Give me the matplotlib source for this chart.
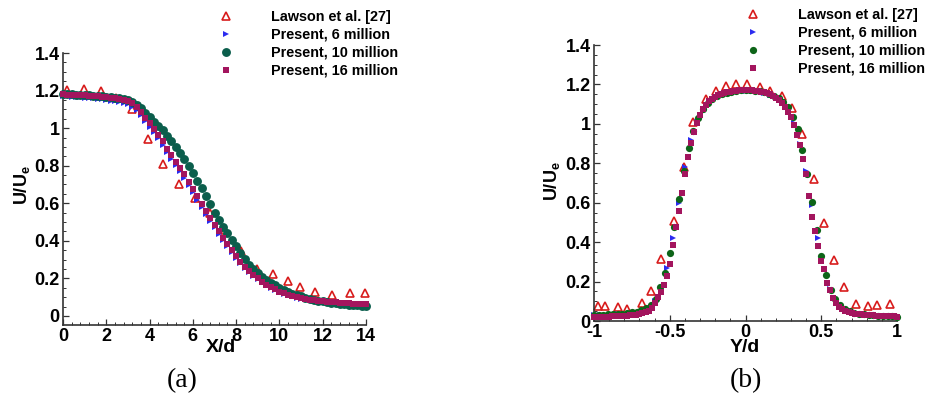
import numpy as np
import matplotlib
matplotlib.use("Agg")
import matplotlib.pyplot as plt
from matplotlib.ticker import MultipleLocator, FixedLocator, FixedFormatter

plt.rcParams['font.family'] = ['Liberation Sans', 'DejaVu Sans']
plt.rcParams['font.weight'] = 'bold'
plt.rcParams['mathtext.fontset'] = 'custom'
plt.rcParams['mathtext.rm'] = 'Liberation Sans:bold'
plt.rcParams['mathtext.it'] = 'Liberation Sans:bold'
plt.rcParams['mathtext.bf'] = 'Liberation Sans:bold'

# ---------------- data: panel (a), centreline U/Ue vs X/d ----------------
a_lawson_x = [0.17, 0.97, 1.74, 2.45, 3.17, 3.94, 4.64, 5.36, 6.10, 6.80, 7.50, 8.22,
              8.98, 9.69, 10.41, 10.95, 11.65, 12.44, 13.25, 13.94]
a_lawson_y = [1.203, 1.206, 1.200, 1.160, 1.100, 0.940, 0.810, 0.700, 0.630, 0.550, 0.460, 0.345,
              0.248, 0.222, 0.186, 0.156, 0.126, 0.113, 0.121, 0.124]

a_sim_x = np.round(np.arange(0, 71) * 0.2, 2)
a_6m_y = [1.172, 1.170, 1.168, 1.166, 1.164, 1.162, 1.160, 1.158, 1.156, 1.153,
          1.150, 1.147, 1.144, 1.140, 1.135, 1.128, 1.115, 1.095, 1.068, 1.038,
          1.008, 0.978, 0.946, 0.910, 0.872, 0.836, 0.802, 0.770, 0.735, 0.697,
          0.658, 0.620, 0.582, 0.545, 0.507, 0.472, 0.438, 0.404, 0.372, 0.340,
          0.310, 0.283, 0.258, 0.235, 0.215, 0.196, 0.180, 0.165, 0.151, 0.139,
          0.128, 0.119, 0.111, 0.104, 0.098, 0.093, 0.089, 0.085, 0.082, 0.079,
          0.076, 0.074, 0.072, 0.070, 0.068, 0.066, 0.065, 0.064, 0.063, 0.062,
          0.061]
a_10m_y = [1.182, 1.181, 1.180, 1.179, 1.178, 1.177, 1.175, 1.173, 1.171, 1.169,
           1.167, 1.164, 1.161, 1.158, 1.154, 1.148, 1.140, 1.125, 1.105, 1.082,
           1.058, 1.035, 1.012, 0.988, 0.960, 0.930, 0.900, 0.868, 0.835, 0.800,
           0.762, 0.720, 0.680, 0.640, 0.598, 0.550, 0.510, 0.475, 0.440, 0.405,
           0.370, 0.336, 0.303, 0.274, 0.250, 0.228, 0.209, 0.192, 0.177, 0.163,
           0.150, 0.138, 0.128, 0.119, 0.111, 0.104, 0.098, 0.092, 0.087, 0.082,
           0.078, 0.074, 0.071, 0.068, 0.065, 0.062, 0.060, 0.058, 0.056, 0.054,
           0.052]
a_16m_y = [1.180, 1.179, 1.178, 1.177, 1.176, 1.175, 1.173, 1.171, 1.169, 1.167,
           1.165, 1.162, 1.159, 1.155, 1.150, 1.143, 1.132, 1.112, 1.085, 1.055,
           1.025, 0.995, 0.965, 0.930, 0.890, 0.855, 0.820, 0.790, 0.755, 0.715,
           0.675, 0.637, 0.598, 0.560, 0.520, 0.485, 0.450, 0.415, 0.382, 0.350,
           0.318, 0.290, 0.263, 0.240, 0.220, 0.200, 0.183, 0.167, 0.153, 0.141,
           0.130, 0.121, 0.113, 0.106, 0.100, 0.095, 0.091, 0.087, 0.084, 0.081,
           0.078, 0.076, 0.074, 0.072, 0.070, 0.068, 0.067, 0.066, 0.065, 0.064,
           0.063]

# ---------------- data: panel (b), transverse U/Ue vs Y/d ----------------
b_lawson_x = [-0.976, -0.927, -0.844, -0.780, -0.681, -0.624, -0.558, -0.472, -0.404, -0.345,
              -0.264, -0.195, -0.128, -0.063, 0.010, 0.094, 0.160, 0.239, 0.305, 0.371,
              0.452, 0.520, 0.584, 0.650, 0.727, 0.806, 0.866, 0.954]
b_lawson_y = [0.076, 0.076, 0.069, 0.059, 0.093, 0.154, 0.313, 0.509, 0.783, 1.011,
              1.125, 1.168, 1.191, 1.200, 1.203, 1.186, 1.168, 1.143, 1.082, 0.949,
              0.720, 0.499, 0.309, 0.174, 0.086, 0.078, 0.083, 0.086]

b_6m_x = np.round(-1 + np.arange(0, 51) * 0.04, 3)
b_6m_y = [0.028, 0.029, 0.030, 0.031, 0.033, 0.035, 0.038, 0.043, 0.052, 0.068,
          0.100, 0.165, 0.270, 0.420, 0.600, 0.780, 0.920, 1.010, 1.070, 1.108,
          1.133, 1.149, 1.158, 1.164, 1.167, 1.168, 1.167, 1.163, 1.157, 1.148,
          1.133, 1.110, 1.075, 1.005, 0.900, 0.760, 0.590, 0.420, 0.262, 0.160,
          0.105, 0.072, 0.052, 0.042, 0.036, 0.032, 0.029, 0.027, 0.025, 0.024,
          0.023]

b_10m_x = np.round(-1 + np.arange(0, 65) / 32.0, 5)
b_10m_y = [0.030, 0.031, 0.032, 0.033, 0.034, 0.036, 0.038, 0.041, 0.044, 0.048,
           0.055, 0.066, 0.082, 0.112, 0.170, 0.245, 0.345, 0.475, 0.617, 0.760,
           0.880, 0.965, 1.028, 1.075, 1.108, 1.128, 1.142, 1.152, 1.159, 1.164,
           1.168, 1.170, 1.171, 1.170, 1.168, 1.165, 1.160, 1.153, 1.143, 1.130,
           1.112, 1.085, 1.035, 0.972, 0.865, 0.745, 0.605, 0.462, 0.330, 0.235,
           0.155, 0.112, 0.082, 0.062, 0.049, 0.042, 0.037, 0.033, 0.030, 0.028,
           0.026, 0.025, 0.024, 0.023, 0.022]

b_16m_x = np.round(-1 + np.arange(0, 101) * 0.02, 3)
b_16m_y = [0.020, 0.020, 0.021, 0.021, 0.022, 0.022, 0.023, 0.023, 0.024, 0.025,
           0.026, 0.027, 0.028, 0.030, 0.032, 0.035, 0.039, 0.045, 0.053, 0.066,
           0.090, 0.123, 0.148, 0.182, 0.230, 0.290, 0.385, 0.475, 0.560, 0.650,
           0.745, 0.830, 0.905, 0.960, 1.005, 1.045, 1.075, 1.098, 1.115, 1.128,
           1.138, 1.146, 1.152, 1.157, 1.161, 1.164, 1.167, 1.169, 1.170, 1.171,
           1.171, 1.171, 1.170, 1.169, 1.167, 1.164, 1.160, 1.155, 1.149, 1.141,
           1.132, 1.120, 1.104, 1.085, 1.062, 1.035, 0.995, 0.945, 0.893, 0.822,
           0.745, 0.635, 0.530, 0.455, 0.382, 0.306, 0.262, 0.195, 0.157, 0.115,
           0.090, 0.072, 0.060, 0.051, 0.045, 0.041, 0.038, 0.035, 0.033, 0.031,
           0.030, 0.029, 0.028, 0.027, 0.026, 0.025, 0.024, 0.024, 0.023, 0.023,
           0.022]

labels = ['Lawson et al. [27]', 'Present, 6 million', 'Present, 10 million', 'Present, 16 million']
y_ticks = [0, 0.2, 0.4, 0.6, 0.8, 1.0, 1.2, 1.4]
y_ticklabels = ['0', '0.2', '0.4', '0.6', '0.8', '1', '1.2', '1.4']
a_xticks = [0, 2, 4, 6, 8, 10, 12, 14]
a_xticklabels = ['0', '2', '4', '6', '8', '10', '12', '14']
b_xticks = [-1, -0.5, 0, 0.5, 1]
b_xticklabels = ['-1', '-0.5', '0', '0.5', '1']

RED = '#d81c1c'
BLUE = '#2b2bf0'
GREEN_A = '#0b5e4c'
GREEN_B = '#0d6418'
PURPLE = '#a3155e'
AXC = '#333333'

W, H = 926, 398
fig = plt.figure(figsize=(W / 100, H / 100), dpi=100)


def px_axes(x0, x1, ytop, ybot):
    return fig.add_axes([x0 / W, 1 - ybot / H, (x1 - x0) / W, (ybot - ytop) / H])


def style(ax, xticks, xlabels, xminor):
    for s in ['top', 'right']:
        ax.spines[s].set_visible(False)
    for s in ['left', 'bottom']:
        ax.spines[s].set_linewidth(1.2)
        ax.spines[s].set_color(AXC)
    ax.xaxis.set_major_locator(FixedLocator(xticks))
    ax.xaxis.set_major_formatter(FixedFormatter(xlabels))
    ax.yaxis.set_major_locator(FixedLocator(y_ticks))
    ax.yaxis.set_major_formatter(FixedFormatter(y_ticklabels))
    ax.xaxis.set_minor_locator(MultipleLocator(xminor))
    ax.yaxis.set_minor_locator(MultipleLocator(0.05))
    ax.tick_params(which='major', direction='in', length=4.5, width=0.9, color=AXC,
                   labelsize=13, pad=2.5, top=False, right=False)
    ax.tick_params(which='minor', direction='in', length=2.3, width=0.7, color=AXC,
                   top=False, right=False)
    for t in ax.get_xticklabels() + ax.get_yticklabels():
        t.set_fontweight('bold')


def draw(ax, lx, ly, x6, y6, x10, y10, x16, y16, green, ms_t, ms_c, ms_s):
    h0, = ax.plot(lx, ly, linestyle='none', marker='^', ms=ms_t, mfc='none', mec=RED, mew=1.2,
                  clip_on=False, zorder=2)
    h1, = ax.plot(x6, y6, linestyle='none', marker='>', ms=4.2, mfc=BLUE, mec=BLUE, mew=0,
                  clip_on=False, zorder=3)
    h2, = ax.plot(x10, y10, linestyle='none', marker='o', ms=ms_c, mfc=green, mec=green, mew=0,
                  clip_on=False, zorder=4)
    h3, = ax.plot(x16, y16, linestyle='none', marker='s', ms=ms_s, mfc=PURPLE, mec=PURPLE, mew=0,
                  clip_on=False, zorder=5)
    return [h0, h1, h2, h3]


# ---- panel (a)
axa = px_axes(63, 366, 53, 325)
ha = draw(axa, a_lawson_x, a_lawson_y, a_sim_x, a_6m_y, a_sim_x, a_10m_y, a_sim_x, a_16m_y,
          GREEN_A, 5.8, 6.4, 4.4)
axa.set_xlim(0, 14)
axa.set_ylim(-0.048, 1.4)
style(axa, a_xticks, a_xticklabels, 0.4)

# ---- panel (b)
axb = px_axes(594, 897, 45, 321)
hb = draw(axb, b_lawson_x, b_lawson_y, b_6m_x, b_6m_y, b_10m_x, b_10m_y, b_16m_x, b_16m_y,
          GREEN_B, 5.6, 5.2, 3.7)
axb.set_xlim(-1, 1)
axb.set_ylim(0, 1.4)
style(axb, b_xticks, b_xticklabels, 0.1)

# legends
fs_leg = 10.4
for ax, handles, mx, ytop in [(axa, ha, 226, 10), (axb, hb, 753, 8)]:
    ax.legend(handles, labels, loc='upper left', frameon=False,
              bbox_to_anchor=((mx - 0.5 * fs_leg * 100 / 72) / W, 1 - ytop / H),
              bbox_transform=fig.transFigure, borderpad=0, borderaxespad=0,
              handlelength=1.0, handletextpad=2.6, labelspacing=0.27,
              prop={'size': fs_leg, 'weight': 'bold'}, markerscale=1.0)

# axis labels
fig.text(221 / W, 1 - 347 / H, 'X/d', ha='center', va='center', fontsize=14, fontweight='bold')
fig.text(745 / W, 1 - 347 / H, 'Y/d', ha='center', va='center', fontsize=14, fontweight='bold')
fig.text(22 / W, 1 - 185 / H, r'U/U$_{\rm e}$', ha='center', va='center', rotation=90,
         fontsize=13, fontweight='bold')
fig.text(552 / W, 1 - 181 / H, r'U/U$_{\rm e}$', ha='center', va='center', rotation=90,
         fontsize=13, fontweight='bold')

# panel tags
fig.text(182 / W, 1 - 381 / H, '(a)', ha='center', va='center', fontsize=20,
         family=['Liberation Serif', 'DejaVu Serif'], fontweight='normal')
fig.text(746 / W, 1 - 381 / H, '(b)', ha='center', va='center', fontsize=20,
         family=['Liberation Serif', 'DejaVu Serif'], fontweight='normal')

fig.savefig('out.png', dpi=100, facecolor='white')
